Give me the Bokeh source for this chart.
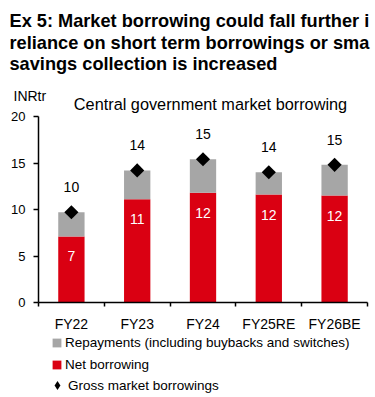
import numpy as np
from bokeh.plotting import figure
from bokeh.models import (ColumnDataSource, Label, Legend, LegendItem,
                          FixedTicker, Range1d)
from bokeh.core.properties import value
from bokeh.embed import file_html
from bokeh.resources import INLINE

# ---- data ----
categories = ["FY22", "FY23", "FY24", "FY25RE", "FY26BE"]
net_borrowing = [7.1, 11.1, 11.8, 11.6, 11.5]
repayments = [2.6, 3.1, 3.6, 2.4, 3.3]
gross_borrowing = [9.7, 14.2, 15.4, 14.0, 14.8]
y_ticks = [0, 5, 10, 15, 20]

title_lines = [
    "Ex 5: Market borrowing could fall further i",
    "reliance on short term borrowings or sma",
    "savings collection is increased",
]
subtitle = "Central government market borrowing"
unit_label = "INRtr"
legend_labels = [
    "Repayments (including buybacks and switches)",
    "Net borrowing",
    "Gross market borrowings",
]

FONT = "Liberation Sans"
RED = "#DA0012"
GREY = "#A6A6A6"

W, H = 375, 397
# plot box in canvas pixels
LEFT, RIGHT, TOP, BOTTOM = 38, 367, 116, 302
Y_MAX = 20

n = len(categories)
xs = np.arange(n) + 0.5
src = ColumnDataSource(dict(
    x=xs,
    net=net_borrowing,
    rep=repayments,
    gross=gross_borrowing,
    net_lbl=[f"{v:.0f}" for v in net_borrowing],
    gross_lbl=[f"{v:.0f}" for v in gross_borrowing],
))

# ranges so that the whole canvas is the frame; axes pinned at 0
ppx = (RIGHT - LEFT) / n
ppy = (BOTTOM - TOP) / Y_MAX
x_range = Range1d(-LEFT / ppx, n + (W - RIGHT) / ppx)
y_range = Range1d(-(H - BOTTOM) / ppy, Y_MAX + TOP / ppy)

p = figure(width=W, height=H, x_range=x_range, y_range=y_range,
           output_backend="svg", toolbar_location=None,
           min_border=0, min_border_left=0, min_border_right=0,
           min_border_top=0, min_border_bottom=0)
p.background_fill_color = "white"
p.border_fill_color = "white"
p.outline_line_color = None
p.xgrid.visible = False
p.ygrid.visible = False

bars = p.vbar_stack(["net", "rep"], x="x", width=0.4, color=[RED, GREY],
                    line_width=0, source=src)
dia = p.scatter(x="x", y="gross", marker="square", angle=np.pi / 4, size=10,
                color="black", line_width=0, source=src)
# legend-only glyph (hidden in the plot)
dia_leg = p.scatter(x="x", y="gross", marker="diamond", size=10,
                    color="black", line_width=0, source=src, visible=False)

p.text(x="x", y="gross", text="gross_lbl", text_align="center",
       text_baseline="middle", y_offset=-25, text_color="black",
       text_font=value(FONT), text_font_size="14px", source=src)
p.text(x="x", y="net", text="net_lbl", text_align="center",
       text_baseline="middle", y_offset=20, text_color="white",
       text_font=value(FONT), text_font_size="14px", source=src)

# axes
xa = p.xaxis[0]
xa.fixed_location = 0
xa.bounds = (0, n)
xa.ticker = FixedTicker(ticks=list(xs), minor_ticks=list(range(n + 1)))
xa.major_label_overrides = {float(x): c for x, c in zip(xs, categories)}
xa.major_tick_out = 0
xa.major_tick_in = 0
xa.minor_tick_out = 4
xa.minor_tick_in = 0
xa.minor_tick_line_color = "black"
xa.minor_tick_line_width = 1.5
xa.axis_line_color = "black"
xa.axis_line_width = 1.5
xa.major_label_standoff = 9
xa.major_label_text_font = FONT
xa.major_label_text_font_size = "14px"
xa.major_label_text_color = "black"

ya = p.yaxis[0]
ya.fixed_location = 0
ya.bounds = (0, Y_MAX)
ya.ticker = FixedTicker(ticks=y_ticks, minor_ticks=[])
ya.major_tick_out = 5
ya.major_tick_in = 0
ya.major_tick_line_color = "black"
ya.major_tick_line_width = 1.5
ya.minor_tick_out = 0
ya.minor_tick_in = 0
ya.axis_line_color = "black"
ya.axis_line_width = 1.5
ya.major_label_standoff = 8
ya.major_label_text_font = FONT
ya.major_label_text_font_size = "13px"
ya.major_label_text_color = "black"

# texts in screen units (frame == canvas, y measured from bottom)
for line, yb in zip(title_lines, [20.7, 42, 63]):
    p.add_layout(Label(x=9, y=H - yb, x_units="screen", y_units="screen",
                       text=line, text_font=FONT, text_font_style="bold",
                       text_font_size="18.2px", text_baseline="alphabetic",
                       text_color="black"))
p.add_layout(Label(x=210, y=H - 103, x_units="screen", y_units="screen",
                   text=subtitle, text_font=FONT, text_font_size="16.3px",
                   text_align="center", text_baseline="alphabetic",
                   text_color="black"))
p.add_layout(Label(x=13, y=H - 95, x_units="screen", y_units="screen",
                   text=unit_label, text_font=FONT, text_font_size="14px",
                   text_baseline="alphabetic", text_color="black"))

# legends (one per row): label, renderer, row centre, left, glyph box, standoff
legend_specs = [
    (legend_labels[0], bars[1], 342, 51, 11, 3),
    (legend_labels[1], bars[0], 363.5, 51, 11, 3),
    (legend_labels[2], dia_leg, 385, 46, 22, -3),
]
for lbl, rend, cy, x0, gsize, standoff in legend_specs:
    half = max(gsize, 16) / 2
    leg = Legend(items=[LegendItem(label=lbl, renderers=[rend])],
                 location=(x0, H - (cy + half)), padding=0, margin=0,
                 spacing=0, border_line_color=None, background_fill_alpha=0,
                 glyph_width=gsize, glyph_height=gsize, label_height=11,
                 label_standoff=standoff, label_text_font=FONT,
                 label_text_font_size="13.5px", label_text_color="black")
    p.add_layout(leg, "center")

open("out.html", "w").write(file_html(p, INLINE))
